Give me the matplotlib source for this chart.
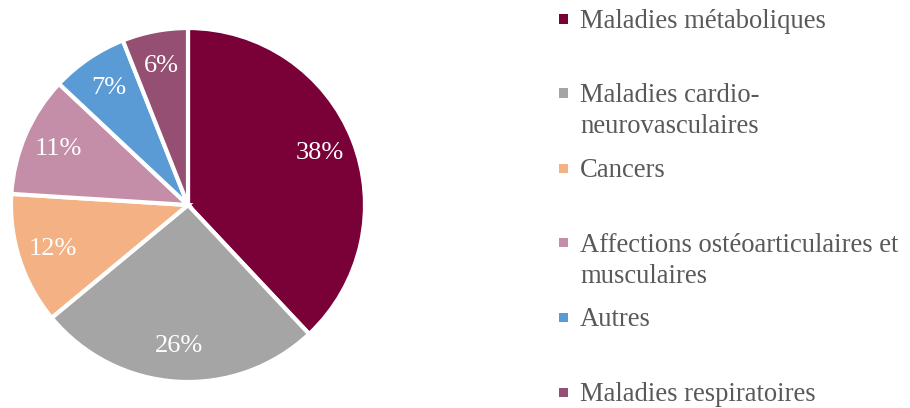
import matplotlib
matplotlib.use("Agg")
import matplotlib.pyplot as plt
from matplotlib.patches import Rectangle

plt.rcParams['font.family'] = ['Liberation Serif', 'DejaVu Serif']

# parts of the total, in percent
categories = ['Maladies métaboliques',
              'Maladies cardio-\nneurovasculaires',
              'Cancers',
              'Affections ostéoarticulaires et\nmusculaires',
              'Autres',
              'Maladies respiratoires']
shares = [38, 26, 12, 11, 7, 6]
colors = ['#7A0038', '#A5A5A5', '#F4B183', '#C58EA8', '#5B9BD5', '#954F72']

W, H = 910, 408
fig = plt.figure(figsize=(W / 100, H / 100), dpi=100)

# pie: centre (188, 205) px, radius 177 px
cx, cy, r = 188, 205, 177
ax = fig.add_axes([(cx - r) / W, (H - cy - r) / H, 2 * r / W, 2 * r / H])
wedges, texts, autotexts = ax.pie(
    shares, colors=colors, startangle=90, counterclock=False,
    autopct='%d%%', pctdistance=0.8, radius=1,
    wedgeprops=dict(edgecolor='white', linewidth=3),
    textprops=dict(color='white', fontsize=19))
ax.set_xlim(-1, 1)
ax.set_ylim(-1, 1)
ax.set_aspect('equal')
ax.axis('off')

# legend drawn by hand, one row every ~74.6 px
row_y = [19, 93, 168, 243, 317, 392]
for lab, col, y in zip(categories, colors, row_y):
    fig.add_artist(Rectangle(((563 - 4.5) / W, 1 - (y + 4.5) / H), 9 / W, 9 / H,
                             transform=fig.transFigure, facecolor=col,
                             edgecolor='none'))
    fig.text(580 / W, 1 - (y - 10) / H, lab, fontsize=19.2, color='#595959',
             ha='left', va='top', linespacing=1.3)

fig.savefig('out.png', dpi=100)
